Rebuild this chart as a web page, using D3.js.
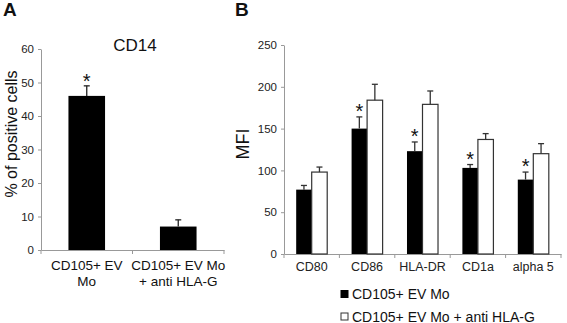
<!DOCTYPE html>
<html lang="en">
<head>
  <meta charset="UTF-8">
  <title>CD14 and MFI bar charts</title>
  <script src="https://d3js.org/d3.v7.min.js"></script>
  <style>
    body { margin: 0; background: #fff; font-family: Arial, "Liberation Sans", sans-serif; }
    svg text { font-family: Arial, "Liberation Sans", sans-serif; fill: #111; }
    .axis path, .axis line { stroke: #999; }
    .axis text { font-size: 11.5px; fill: #222; }
  </style>
</head>
<body>
  <svg width="567" height="323"></svg>

  <script>
    // Panel A: CD14
    const groupsA = ["CD105+ EV Mo", "CD105+ EV Mo + anti HLA-G"];
    const labelsA = [["CD105+ EV", "Mo"], ["CD105+ EV Mo", "+ anti HLA-G"]];
    const valuesA = [46, 7];
    const errorsA = [3, 2];
    const starsA = [true, false];
    const ticksA = [0, 10, 20, 30, 40, 50, 60];

    // Panel B: MFI
    const markers = ["CD80", "CD86", "HLA-DR", "CD1a", "alpha 5"];
    const series = ["CD105+ EV Mo", "CD105+ EV Mo + anti HLA-G"];
    const mfiEV = [77, 150, 123, 103, 89];
    const mfiEVerr = [5, 14, 11, 4, 9];
    const mfiAnti = [98, 184, 179, 137, 120];
    const mfiAntiErr = [6, 19, 16, 7, 12];
    const starsB = [false, true, true, true, true];
    const ticksB = [0, 50, 100, 150, 200, 250];

    const svg = d3.select("svg");

    // ---------- Panel A ----------
    const xA = d3.scaleBand().domain(groupsA).range([41, 224]).paddingInner(0.6).paddingOuter(0.3);
    const yA = d3.scaleLinear().domain([0, 60]).range([250, 49]);

    svg.append("g")
      .attr("class", "axis")
      .attr("transform", "translate(41,0)")
      .call(d3.axisLeft(yA).tickValues(ticksA).tickSize(3).tickPadding(4).tickSizeOuter(0));

    svg.append("g")
      .attr("class", "axis")
      .attr("transform", "translate(0,250)")
      .call(d3.axisBottom(xA).tickSize(0).tickFormat(""));

    // boundary ticks on x axis
    const boundsA = d3.range(groupsA.length + 1).map(i => 41 + i * (224 - 41) / groupsA.length);
    svg.append("g").selectAll("line")
      .data(boundsA)
      .enter().append("line")
      .attr("x1", d => d).attr("x2", d => d)
      .attr("y1", 250).attr("y2", 254)
      .attr("stroke", "#999");

    const barsA = svg.append("g");
    barsA.selectAll("rect")
      .data(groupsA)
      .enter().append("rect")
      .attr("x", d => xA(d))
      .attr("y", (d, i) => yA(valuesA[i]))
      .attr("width", xA.bandwidth())
      .attr("height", (d, i) => yA(0) - yA(valuesA[i]))
      .attr("fill", "#000");

    groupsA.forEach((g, i) => {
      const cx = xA(g) + xA.bandwidth() / 2;
      barsA.append("line")
        .attr("x1", cx).attr("x2", cx)
        .attr("y1", yA(valuesA[i])).attr("y2", yA(valuesA[i] + errorsA[i]))
        .attr("stroke", "#222").attr("stroke-width", 1.3);
      barsA.append("line")
        .attr("x1", cx - 3).attr("x2", cx + 3)
        .attr("y1", yA(valuesA[i] + errorsA[i])).attr("y2", yA(valuesA[i] + errorsA[i]))
        .attr("stroke", "#222").attr("stroke-width", 1.3);
      if (starsA[i]) {
        barsA.append("text")
          .attr("x", cx).attr("y", yA(valuesA[i] + errorsA[i]) + 2)
          .attr("text-anchor", "middle")
          .style("font-size", "20px")
          .text("*");
      }
      labelsA[i].forEach((line, j) => {
        svg.append("text")
          .attr("x", cx).attr("y", 270 + j * 16)
          .attr("text-anchor", "middle")
          .style("font-size", "13.5px")
          .text(line);
      });
    });

    svg.append("text")
      .attr("x", 135).attr("y", 51)
      .attr("text-anchor", "middle")
      .style("font-size", "17px")
      .text("CD14");

    svg.append("text")
      .attr("transform", "rotate(-90)")
      .attr("x", -134).attr("y", 17)
      .attr("text-anchor", "middle")
      .style("font-size", "16px")
      .text("% of positive cells");

    svg.append("text")
      .attr("x", 3).attr("y", 16)
      .style("font-size", "19px").style("font-weight", "bold")
      .text("A");

    // ---------- Panel B ----------
    const xB = d3.scaleBand().domain(markers).range([284, 561]).paddingInner(0.44).paddingOuter(0.22);
    const xSub = d3.scaleBand().domain(series).range([0, xB.bandwidth()]);
    const yB = d3.scaleLinear().domain([0, 250]).range([254, 45]);

    svg.append("g")
      .attr("class", "axis")
      .attr("transform", "translate(284,0)")
      .call(d3.axisLeft(yB).tickValues(ticksB).tickSize(3).tickPadding(4).tickSizeOuter(0));

    svg.append("g")
      .attr("class", "axis x-b")
      .attr("transform", "translate(0,254)")
      .call(d3.axisBottom(xB).tickSize(0).tickPadding(8));
    svg.selectAll(".x-b text").style("font-size", "12.5px");

    const boundsB = d3.range(markers.length + 1).map(i => 284 + i * (561 - 284) / markers.length);
    svg.append("g").selectAll("line")
      .data(boundsB)
      .enter().append("line")
      .attr("x1", d => d).attr("x2", d => d)
      .attr("y1", 254).attr("y2", 258)
      .attr("stroke", "#999");

    const rowsB = markers.map((m, i) => ({
      marker: m,
      vals: [
        { s: series[0], v: mfiEV[i], e: mfiEVerr[i], star: starsB[i] },
        { s: series[1], v: mfiAnti[i], e: mfiAntiErr[i], star: false }
      ]
    }));

    const grp = svg.append("g").selectAll("g")
      .data(rowsB)
      .enter().append("g")
      .attr("transform", d => `translate(${xB(d.marker)},0)`);

    const cell = grp.selectAll("g")
      .data(d => d.vals)
      .enter().append("g");

    cell.append("rect")
      .attr("x", d => xSub(d.s))
      .attr("y", d => yB(d.v))
      .attr("width", xSub.bandwidth())
      .attr("height", d => yB(0) - yB(d.v))
      .attr("fill", d => d.s === series[0] ? "#000" : "#fff")
      .attr("stroke", d => d.s === series[0] ? "none" : "#333")
      .attr("stroke-width", 1.2);

    cell.append("line")
      .attr("x1", d => xSub(d.s) + xSub.bandwidth() / 2)
      .attr("x2", d => xSub(d.s) + xSub.bandwidth() / 2)
      .attr("y1", d => yB(d.v))
      .attr("y2", d => yB(d.v + d.e))
      .attr("stroke", "#333").attr("stroke-width", 1.3);

    cell.append("line")
      .attr("x1", d => xSub(d.s) + xSub.bandwidth() / 2 - 3)
      .attr("x2", d => xSub(d.s) + xSub.bandwidth() / 2 + 3)
      .attr("y1", d => yB(d.v + d.e))
      .attr("y2", d => yB(d.v + d.e))
      .attr("stroke", "#333").attr("stroke-width", 1.3);

    cell.filter(d => d.star).append("text")
      .attr("x", d => xSub(d.s) + xSub.bandwidth() / 2)
      .attr("y", d => yB(d.v + d.e) + 1)
      .attr("text-anchor", "middle")
      .style("font-size", "20px")
      .text("*");

    svg.append("text")
      .attr("transform", "rotate(-90)")
      .attr("x", -144).attr("y", 249)
      .attr("text-anchor", "middle")
      .style("font-size", "18px")
      .text("MFI");

    svg.append("text")
      .attr("x", 235).attr("y", 16)
      .style("font-size", "19px").style("font-weight", "bold")
      .text("B");

    // legend
    const legend = svg.append("g").selectAll("g")
      .data(series)
      .enter().append("g")
      .attr("transform", (d, i) => `translate(341,${294 + i * 22.5})`);

    legend.append("rect")
      .attr("x", 0).attr("y", -3.5)
      .attr("width", 7).attr("height", 7)
      .attr("fill", (d, i) => i === 0 ? "#000" : "#fff")
      .attr("stroke", (d, i) => i === 0 ? "#000" : "#333")
      .attr("stroke-width", 1);

    legend.append("text")
      .attr("x", 11).attr("y", 5)
      .style("font-size", "14px")
      .text(d => d);
  </script>
</body>
</html>
